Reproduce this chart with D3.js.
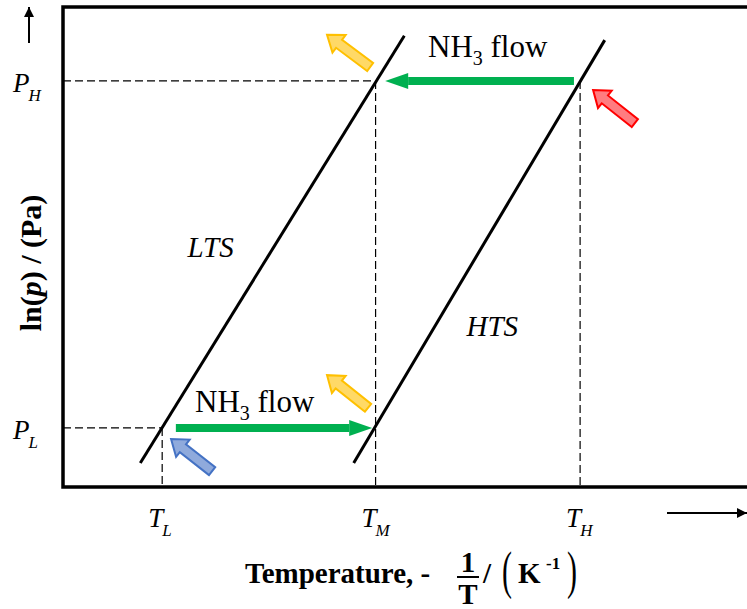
<!DOCTYPE html>
<html>
<head>
<meta charset="utf-8">
<script src="https://cdn.jsdelivr.net/npm/d3@7"></script>
<style>
  body { margin: 0; background: #fff; }
  text { font-family: "Liberation Serif", "Times New Roman", serif; fill: #000; }
</style>
</head>
<body>
<div id="chart"></div>
<script>
// schematic units: x = -1/T, y = ln(p), both on a 0..100 scale
const stores = ['LTS', 'HTS']
const storeX = [[11.3, 49.9], [42.5, 79.2]]
const storeY = [[5.0, 94.0], [5.0, 93.1]]
const storeLabelX = [18.2, 59.0]
const storeLabelY = [48.0, 31.4]

const tempNames = ['L', 'M', 'H']
const tempX = [14.5, 45.7, 75.6]
const tempTop = [12.3, 84.6, 84.6]

const pressNames = ['L', 'H']
const pressY = [12.3, 84.6]
const pressRight = [14.5, 45.7]

const flowFrom = [74.7, 16.5]
const flowTo = [47.1, 45.2]
const flowY = [84.6, 12.3]

// heat arrows (tip then tail)
const heatTip = [[38.6, 94.2], [77.5, 82.7], [15.8, 10.0], [38.6, 23.3]]
const heatTail = [[44.9, 87.5], [83.6, 75.8], [21.8, 3.3], [44.6, 16.5]]
const heatFill = ['#FFD966', '#FF7C80', '#8FAADC', '#FFD966']
const heatStroke = ['#FFC000', '#FF0000', '#4472C4', '#FFC000']

const width = 747
const height = 609
const svg = d3.select('#chart').append('svg')
    .attr('width', width)
    .attr('height', height)
    .attr('viewBox', [0, 0, width, height])

const x = d3.scaleLinear().domain([0, 100]).range([63, 747])
const y = d3.scaleLinear().domain([0, 100]).range([487, 7])

svg.append('defs').append('marker')
    .attr('id', 'blackHead')
    .attr('viewBox', '0 0 10 10')
    .attr('refX', 10).attr('refY', 5)
    .attr('markerWidth', 6).attr('markerHeight', 5)
    .attr('markerUnits', 'strokeWidth')
    .attr('orient', 'auto')
  .append('path').attr('d', 'M0,0L10,5L0,10Z').attr('fill', '#000')

// dashed guides
const dash = svg.append('g').attr('stroke', '#000').attr('stroke-width', 1.2)
    .attr('stroke-dasharray', '8,4').attr('fill', 'none')
dash.selectAll('.vg').data(tempX).join('line')
    .attr('x1', d => x(d)).attr('x2', d => x(d))
    .attr('y1', (d, i) => y(tempTop[i])).attr('y2', y(0))
dash.selectAll('.hg').data(pressY).join('line')
    .attr('x1', x(0)).attr('x2', (d, i) => x(pressRight[i]))
    .attr('y1', d => y(d)).attr('y2', d => y(d))

// van't Hoff lines
svg.append('g').selectAll('line').data(stores).join('line')
    .attr('x1', (d, i) => x(storeX[i][0])).attr('y1', (d, i) => y(storeY[i][0]))
    .attr('x2', (d, i) => x(storeX[i][1])).attr('y2', (d, i) => y(storeY[i][1]))
    .attr('stroke', '#000').attr('stroke-width', 3)

svg.append('g').selectAll('text').data(stores).join('text')
    .attr('x', (d, i) => x(storeLabelX[i])).attr('y', (d, i) => y(storeLabelY[i]))
    .attr('font-size', 29).attr('font-style', 'italic')
    .text(d => d)

// green NH3 flow arrows
const flow = svg.append('g')
flowY.forEach((fy, i) => {
    const x0 = x(flowFrom[i]), x1 = x(flowTo[i]), yy = y(fy)
    const dir = Math.sign(x1 - x0)
    const hl = 23, hw = 8
    flow.append('line')
        .attr('x1', x0).attr('x2', x1 - dir * hl)
        .attr('y1', yy).attr('y2', yy)
        .attr('stroke', '#00B050').attr('stroke-width', 8)
    flow.append('path')
        .attr('d', `M${x1},${yy}L${x1 - dir * hl},${yy - hw}L${x1 - dir * hl},${yy + hw}Z`)
        .attr('fill', '#00B050')
})

const flowText = svg.append('g').attr('font-size', 31)
const flowLabel = [[428, 57], [195, 412]]
flowLabel.forEach(p => {
    const t = flowText.append('text').attr('x', p[0]).attr('y', p[1])
    t.append('tspan').text('NH')
    t.append('tspan').attr('font-size', 20).attr('dy', 8).text('3')
    t.append('tspan').attr('dy', -8).text(' flow')
})

// block arrows for heat
const heat = svg.append('g')
heatTip.forEach((tip, i) => {
    const tx = x(tip[0]), ty = y(tip[1])
    const bx = x(heatTail[i][0]), by = y(heatTail[i][1])
    const len = Math.hypot(tx - bx, ty - by)
    const ang = Math.atan2(ty - by, tx - bx) * 180 / Math.PI
    const w = 5, h = 11, hl = 15
    const pts = [[0, -w], [len - hl, -w], [len - hl, -h], [len, 0], [len - hl, h], [len - hl, w], [0, w]]
    heat.append('polygon')
        .attr('points', pts.map(p => p.join(',')).join(' '))
        .attr('transform', `translate(${bx},${by}) rotate(${ang})`)
        .attr('fill', heatFill[i]).attr('stroke', heatStroke[i])
        .attr('stroke-width', 2).attr('stroke-linejoin', 'miter')
})

// axes frame
svg.append('path')
    .attr('d', `M${x(100)},${y(100)}H${x(0)}V${y(0)}H${x(100)}`)
    .attr('fill', 'none').attr('stroke', '#000').attr('stroke-width', 3.5)

// tick labels
const tl = svg.append('g').attr('font-style', 'italic')
tempX.forEach((tx, i) => {
    const t = tl.append('text').attr('x', x(tx) - 14).attr('y', 527).attr('font-size', 27)
    t.append('tspan').text('T')
    t.append('tspan').attr('font-size', 17).attr('dy', 9).attr('dx', -1).text(tempNames[i])
})
pressY.forEach((py, i) => {
    const t = tl.append('text').attr('x', 13).attr('y', y(py) + 11).attr('font-size', 27)
    t.append('tspan').text('P')
    t.append('tspan').attr('font-size', 17).attr('dy', 9).attr('dx', -1).text(pressNames[i])
})

// direction arrows
svg.append('line').attr('x1', 29).attr('x2', 29).attr('y1', 43).attr('y2', 7)
    .attr('stroke', '#000').attr('stroke-width', 2).attr('marker-end', 'url(#blackHead)')
svg.append('line').attr('x1', 667).attr('x2', 747).attr('y1', 513).attr('y2', 513)
    .attr('stroke', '#000').attr('stroke-width', 2).attr('marker-end', 'url(#blackHead)')

// axis titles
svg.append('text')
    .attr('transform', 'translate(41,263) rotate(-90)')
    .attr('text-anchor', 'middle').attr('font-size', 30).attr('font-weight', 'bold')
    .call(t => {
        t.append('tspan').text('ln(')
        t.append('tspan').attr('font-style', 'italic').text('p')
        t.append('tspan').text(') / (Pa)')
    })

const xt = svg.append('g').attr('font-weight', 'bold').attr('font-size', 29)
xt.append('text').attr('x', 245).attr('y', 583).text('Temperature, -')
xt.append('text').attr('x', 468).attr('y', 572).attr('text-anchor', 'middle').text('1')
xt.append('line').attr('x1', 457).attr('x2', 479).attr('y1', 577).attr('y2', 577)
    .attr('stroke', '#000').attr('stroke-width', 2)
xt.append('text').attr('x', 468).attr('y', 604).attr('text-anchor', 'middle').text('T')
xt.append('text').attr('x', 483).attr('y', 583).text('/')
xt.append('text').attr('transform', 'translate(502,575) scale(1,1.75)')
    .attr('y', 7.6).attr('font-weight', 'normal').attr('font-size', 30).text('(')
xt.append('text').attr('x', 518).attr('y', 583).text('K')
xt.append('text').attr('x', 546).attr('y', 569).attr('font-size', 17).text('-1')
xt.append('text').attr('transform', 'translate(567,575) scale(1,1.75)')
    .attr('y', 7.6).attr('font-weight', 'normal').attr('font-size', 30).text(')')
</script>
</body>
</html>
